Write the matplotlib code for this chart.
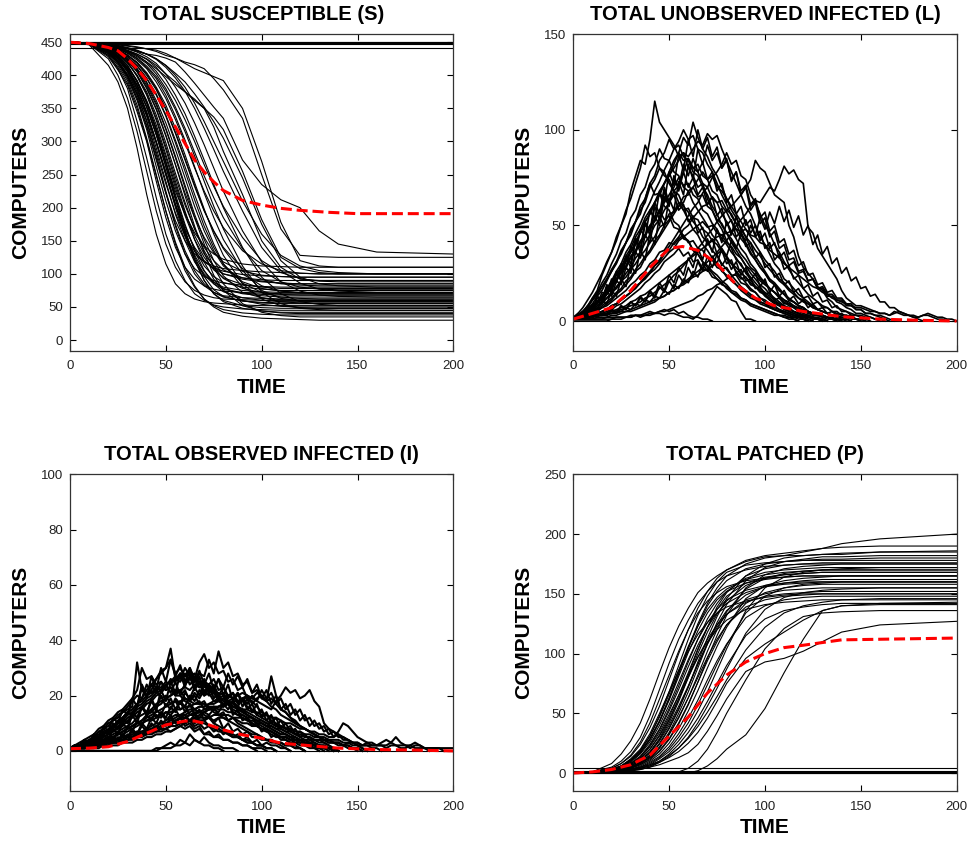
import matplotlib
matplotlib.use("Agg")
import numpy as np
import matplotlib.pyplot as plt

plt.rcParams['font.family'] = ['Liberation Sans', 'DejaVu Sans']

# ---- susceptible runs, values at T_S ----
T_S = [0, 10, 20, 25, 30, 35, 40, 45, 50, 55, 60, 65, 70, 75, 80, 90, 100, 110, 120, 130, 140, 160, 200]
S_RUNS = [
    [450, 446, 415, 390, 350, 290, 220, 160, 115, 85, 70, 62, 58, 56, 55, 53, 52, 52, 52, 52, 52, 52, 52],
    [450, 447, 425, 400, 365, 315, 255, 195, 145, 110, 88, 75, 68, 64, 62, 61, 60, 60, 60, 60, 60, 60, 60],
    [450, 448, 430, 410, 380, 330, 275, 215, 160, 120, 90, 70, 60, 53, 50, 47, 46, 45, 45, 45, 45, 45, 45],
    [450, 447, 428, 408, 385, 345, 300, 240, 185, 140, 110, 92, 82, 77, 74, 72, 71, 70, 70, 70, 70, 70, 70],
    [450, 448, 432, 415, 392, 355, 305, 250, 195, 145, 105, 80, 62, 52, 46, 41, 39, 38, 38, 38, 38, 38, 38],
    [450, 447, 435, 418, 395, 362, 318, 262, 210, 165, 130, 108, 96, 90, 86, 83, 81, 80, 80, 80, 80, 80, 80],
    [450, 449, 436, 422, 400, 370, 330, 280, 225, 175, 135, 105, 85, 72, 65, 59, 56, 55, 55, 55, 55, 55, 55],
    [450, 448, 438, 425, 405, 375, 338, 290, 240, 190, 150, 118, 98, 85, 77, 70, 67, 65, 65, 65, 65, 65, 65],
    [450, 447, 434, 420, 400, 372, 340, 298, 250, 205, 168, 140, 120, 108, 100, 94, 91, 90, 90, 90, 90, 90, 90],
    [450, 449, 440, 428, 410, 382, 345, 300, 255, 205, 160, 120, 90, 70, 58, 48, 44, 42, 42, 42, 42, 42, 42],
    [450, 448, 437, 425, 408, 385, 352, 310, 262, 215, 172, 138, 112, 96, 87, 80, 77, 75, 75, 75, 75, 75, 75],
    [450, 449, 441, 430, 415, 390, 358, 318, 270, 220, 175, 135, 105, 85, 73, 64, 60, 58, 58, 58, 58, 58, 58],
    [450, 448, 438, 428, 412, 392, 362, 325, 280, 235, 192, 158, 130, 112, 100, 92, 88, 86, 85, 85, 85, 85, 85],
    [450, 449, 442, 433, 420, 398, 370, 332, 288, 240, 195, 152, 118, 92, 75, 60, 54, 51, 50, 50, 50, 50, 50],
    [450, 448, 440, 432, 418, 400, 375, 340, 298, 252, 208, 168, 135, 110, 93, 78, 72, 69, 68, 68, 68, 68, 68],
    [450, 449, 443, 435, 422, 405, 380, 348, 308, 265, 222, 185, 155, 132, 118, 104, 98, 96, 95, 95, 95, 95, 95],
    [450, 448, 441, 434, 423, 408, 385, 355, 318, 275, 230, 185, 145, 110, 85, 55, 42, 37, 35, 35, 35, 35, 35],
    [450, 449, 444, 437, 426, 410, 390, 362, 328, 288, 245, 202, 165, 135, 112, 88, 78, 74, 72, 72, 72, 72, 72],
    [450, 448, 442, 436, 428, 414, 395, 370, 338, 298, 255, 212, 172, 140, 115, 86, 72, 65, 63, 62, 62, 62, 62],
    [450, 449, 445, 439, 430, 418, 400, 378, 348, 312, 272, 232, 195, 165, 140, 108, 92, 85, 83, 82, 82, 82, 82],
    [450, 448, 443, 438, 430, 420, 404, 382, 355, 320, 280, 238, 198, 160, 128, 85, 62, 52, 49, 48, 48, 48, 48],
    [450, 449, 445, 440, 433, 423, 410, 390, 365, 333, 298, 260, 225, 195, 170, 135, 115, 105, 101, 100, 100, 100, 100],
    [450, 448, 444, 440, 434, 425, 412, 395, 370, 338, 302, 262, 222, 185, 152, 105, 75, 63, 59, 58, 58, 58, 58],
    [450, 449, 446, 442, 436, 428, 418, 402, 380, 352, 320, 284, 248, 215, 185, 138, 105, 88, 80, 77, 76, 76, 76],
    [450, 448, 445, 442, 437, 430, 420, 406, 386, 362, 333, 300, 265, 232, 202, 155, 120, 102, 93, 89, 88, 88, 88],
    [450, 449, 446, 443, 438, 432, 424, 412, 394, 370, 342, 308, 272, 235, 200, 140, 95, 70, 58, 54, 52, 52, 52],
    [450, 448, 446, 444, 440, 435, 428, 418, 402, 382, 358, 328, 295, 260, 225, 165, 118, 88, 74, 68, 66, 65, 65],
    [450, 447, 433, 418, 398, 365, 322, 272, 222, 180, 150, 130, 118, 112, 108, 105, 103, 102, 101, 100, 100, 100, 100],
    [450, 448, 438, 426, 410, 385, 352, 312, 268, 225, 190, 162, 142, 130, 122, 115, 112, 111, 110, 110, 110, 110, 110],
    [450, 449, 442, 434, 424, 406, 382, 350, 310, 265, 218, 172, 132, 98, 75, 52, 44, 41, 40, 40, 40, 40, 40],
    [450, 448, 437, 424, 406, 378, 342, 298, 250, 204, 162, 128, 104, 88, 78, 71, 69, 68, 68, 68, 68, 68, 68],
    [450, 449, 440, 430, 415, 392, 360, 320, 276, 230, 188, 152, 125, 106, 94, 84, 80, 78, 78, 78, 78, 78, 78],
    [450, 448, 443, 437, 428, 415, 396, 372, 340, 302, 262, 220, 180, 145, 115, 80, 64, 58, 56, 55, 55, 55, 55],
    [450, 447, 430, 412, 388, 350, 302, 248, 195, 148, 110, 82, 62, 50, 42, 36, 33, 32, 31, 30, 30, 30, 30],
    [450, 449, 445, 441, 435, 426, 414, 398, 376, 348, 315, 278, 240, 202, 168, 112, 72, 55, 48, 46, 45, 45, 45],
    [450, 449, 447, 445, 442, 438, 432, 424, 412, 396, 376, 350, 320, 288, 255, 195, 140, 105, 86, 77, 74, 72, 72],
    [450, 448, 446, 444, 441, 437, 432, 425, 415, 400, 382, 358, 330, 300, 270, 210, 160, 128, 112, 105, 102, 100, 100],
    [450, 448, 436, 420, 398, 366, 325, 275, 222, 172, 130, 100, 82, 72, 67, 64, 63, 62, 62, 62, 62, 62, 62],
    [450, 449, 440, 427, 408, 380, 344, 300, 250, 200, 156, 122, 100, 87, 80, 75, 73, 72, 72, 72, 72, 72, 72],
    [450, 448, 440, 430, 414, 390, 358, 316, 268, 216, 165, 122, 90, 70, 60, 52, 49, 48, 48, 48, 48, 48, 48],
    [450, 449, 442, 434, 420, 400, 372, 335, 292, 246, 204, 168, 140, 120, 106, 94, 89, 86, 85, 85, 85, 85, 85],
    [450, 448, 442, 435, 425, 410, 388, 358, 320, 278, 234, 190, 152, 120, 97, 72, 64, 61, 60, 60, 60, 60, 60],
    [450, 447, 436, 422, 402, 372, 332, 284, 236, 192, 158, 134, 118, 109, 104, 99, 97, 96, 95, 95, 95, 95, 95],
    [450, 449, 444, 439, 431, 419, 402, 380, 350, 314, 274, 234, 196, 164, 138, 100, 82, 74, 71, 70, 70, 70, 70],
    [450, 448, 439, 428, 411, 386, 352, 310, 262, 212, 166, 126, 96, 76, 66, 59, 57, 56, 56, 56, 56, 56, 56],
    [450, 449, 447, 446, 444, 442, 440, 438, 433, 426, 418, 410, 404, 398, 392, 350, 270, 178, 120, 112, 110, 110, 110],
    [450, 448, 445, 443, 440, 436, 432, 430, 426, 420, 405, 388, 370, 352, 335, 272, 235, 212, 200, 165, 145, 133, 130],
    [450, 449, 447, 446, 445, 443, 440, 436, 430, 426, 420, 416, 410, 395, 378, 335, 250, 168, 128, 126, 125, 125, 125],
    [450, 448, 444, 441, 437, 432, 425, 415, 402, 390, 375, 362, 350, 337, 318, 255, 182, 125, 108, 102, 100, 100, 100],
    [450, 448, 443, 440, 436, 430, 420, 410, 398, 386, 375, 364, 350, 322, 285, 220, 150, 110, 92, 90, 90, 90, 90],
    [450, 449, 446, 444, 441, 437, 432, 425, 415, 403, 390, 372, 352, 330, 305, 245, 175, 120, 95, 85, 82, 80, 80],
]
S_FLAT = [450, 450, 449, 447, 441]
S_MEAN_T = [0, 10, 20, 25, 30, 35, 40, 45, 50, 55, 60, 65, 70, 75, 80, 90, 100, 110, 120, 135, 150, 175, 200]
S_MEAN = [450, 448, 442, 437, 425, 410, 392, 370, 347, 322, 297, 272, 254, 239, 226, 211, 204, 199, 196, 193, 191, 191, 191]

# ---- unobserved infected runs, values every 2.5 time units ----
T_L = np.arange(0, 200.1, 2.5)
L_RUNS = [
    [1, 2, 4, 7, 12, 16, 24, 30, 36, 42, 50, 56, 68, 76, 84, 82, 95, 115, 104, 100, 96, 92, 86, 88, 80, 76, 70, 72, 64, 58, 52, 48, 42, 38, 32, 30, 25, 22, 18, 16, 13, 11, 9, 8, 6, 5, 4, 3, 2, 2, 1, 1, 0],
    [1, 1, 2, 4, 5, 8, 10, 14, 17, 22, 26, 31, 36, 40, 46, 52, 56, 62, 66, 72, 78, 84, 88, 96, 92, 104, 96, 90, 86, 80, 76, 70, 64, 58, 54, 48, 44, 38, 34, 30, 26, 22, 20, 17, 14, 12, 10, 8, 7, 5, 4, 3, 3, 2, 1, 1, 0],
    [1, 2, 3, 5, 7, 10, 13, 17, 20, 25, 28, 34, 38, 44, 48, 54, 58, 62, 68, 72, 76, 80, 84, 88, 86, 90, 94, 92, 98, 95, 97, 90, 84, 78, 72, 66, 60, 56, 50, 44, 40, 35, 30, 27, 22, 20, 17, 14, 12, 10, 8, 6, 5, 4, 3, 2, 1, 1, 0],
    [1, 1, 1, 2, 2, 3, 3, 4, 4, 5, 6, 7, 8, 9, 10, 12, 13, 15, 17, 19, 21, 24, 26, 29, 32, 35, 38, 41, 45, 48, 52, 55, 58, 60, 63, 66, 70, 74, 84, 80, 78, 72, 66, 64, 62, 50, 44, 34, 28, 25, 22, 18, 16, 12, 10, 7, 6, 5, 4, 3, 3, 2, 2, 1, 1, 0],
    [1, 1, 2, 2, 2, 3, 3, 3, 4, 4, 5, 5, 6, 7, 8, 9, 10, 11, 12, 13, 15, 16, 18, 20, 22, 24, 26, 28, 31, 33, 36, 39, 42, 46, 50, 53, 56, 60, 63, 62, 66, 70, 68, 74, 81, 77, 79, 74, 72, 49, 46, 38, 34, 30, 26, 22, 16, 12, 10, 8, 8, 7, 6, 5, 4, 4, 3, 5, 4, 3, 3, 2, 2, 3, 3, 2, 1, 1, 0],
    [1, 2, 4, 6, 9, 13, 16, 21, 26, 30, 36, 41, 48, 52, 60, 64, 72, 76, 84, 88, 95, 90, 92, 86, 84, 78, 76, 70, 66, 60, 56, 50, 46, 41, 37, 33, 29, 25, 22, 19, 17, 14, 12, 10, 8, 7, 5, 4, 3, 3, 2, 1, 1, 0],
    [2, 3, 5, 8, 12, 15, 20, 24, 30, 35, 42, 46, 54, 58, 66, 70, 78, 82, 90, 85, 84, 78, 76, 70, 68, 62, 58, 54, 50, 45, 42, 37, 33, 30, 26, 23, 20, 17, 15, 12, 10, 9, 7, 6, 5, 4, 3, 2, 2, 1, 0],
    [1, 2, 3, 5, 7, 10, 12, 16, 19, 24, 27, 33, 36, 42, 46, 52, 56, 62, 66, 72, 76, 82, 88, 84, 85, 80, 78, 72, 70, 64, 62, 56, 52, 47, 43, 38, 35, 30, 27, 23, 20, 17, 15, 12, 10, 8, 7, 5, 4, 3, 2, 2, 1, 0],
    [1, 1, 2, 4, 5, 7, 9, 12, 14, 18, 21, 25, 28, 33, 36, 41, 45, 50, 53, 58, 62, 68, 71, 78, 85, 80, 82, 76, 74, 68, 66, 60, 57, 52, 48, 43, 40, 35, 32, 28, 25, 21, 19, 16, 14, 11, 10, 8, 7, 5, 4, 3, 3, 2, 1, 1, 0],
    [1, 3, 5, 7, 11, 14, 18, 22, 27, 31, 37, 41, 47, 52, 58, 62, 70, 74, 80, 76, 74, 68, 66, 60, 57, 52, 49, 44, 41, 37, 34, 30, 27, 24, 21, 18, 16, 14, 12, 10, 9, 7, 6, 5, 4, 3, 2, 2, 1, 0],
    [1, 1, 2, 3, 4, 6, 7, 9, 11, 14, 16, 19, 22, 26, 28, 33, 36, 40, 44, 48, 52, 56, 60, 62, 68, 70, 74, 78, 74, 76, 70, 68, 64, 60, 56, 52, 48, 44, 40, 36, 32, 29, 26, 22, 20, 17, 15, 12, 11, 9, 7, 6, 5, 4, 3, 2, 2, 1, 0],
    [1, 2, 3, 5, 7, 9, 12, 14, 18, 21, 25, 28, 33, 36, 41, 44, 50, 53, 58, 62, 66, 70, 75, 71, 72, 66, 64, 58, 56, 51, 48, 43, 40, 36, 33, 29, 26, 23, 20, 17, 15, 13, 11, 9, 8, 6, 5, 4, 3, 2, 2, 1, 0],
    [2, 3, 5, 8, 11, 14, 18, 22, 26, 31, 35, 41, 45, 52, 56, 64, 72, 66, 67, 60, 58, 52, 50, 44, 42, 37, 35, 31, 28, 25, 22, 20, 17, 15, 13, 11, 10, 8, 7, 6, 5, 4, 3, 3, 2, 1, 1, 0],
    [1, 1, 2, 3, 5, 6, 8, 10, 12, 15, 17, 21, 23, 27, 30, 34, 37, 42, 45, 50, 53, 58, 60, 65, 66, 70, 65, 66, 60, 58, 53, 51, 46, 43, 39, 35, 32, 28, 26, 22, 20, 17, 15, 13, 11, 9, 8, 6, 5, 4, 3, 3, 2, 1, 1, 0],
    [1, 1, 1, 2, 3, 4, 5, 6, 8, 9, 11, 13, 15, 18, 20, 23, 25, 29, 31, 35, 37, 41, 44, 48, 50, 54, 57, 60, 61, 65, 62, 63, 58, 56, 51, 49, 44, 41, 37, 34, 30, 27, 24, 21, 19, 16, 14, 12, 10, 9, 7, 6, 5, 4, 3, 3, 2, 2, 1, 1, 0],
    [1, 2, 3, 4, 6, 8, 10, 12, 15, 17, 21, 23, 27, 30, 34, 37, 41, 44, 49, 51, 56, 57, 62, 58, 59, 54, 53, 48, 46, 42, 40, 36, 34, 30, 28, 25, 23, 20, 18, 16, 14, 12, 10, 9, 7, 6, 5, 4, 3, 3, 2, 1, 1, 0],
    [1, 2, 4, 5, 8, 10, 13, 15, 19, 22, 26, 29, 34, 37, 42, 45, 50, 52, 58, 53, 55, 49, 48, 43, 42, 37, 35, 31, 29, 26, 24, 21, 19, 16, 15, 12, 11, 9, 8, 7, 6, 5, 4, 3, 2, 2, 1, 0],
    [1, 1, 1, 2, 3, 4, 5, 6, 8, 9, 11, 13, 15, 17, 20, 22, 25, 27, 30, 33, 36, 38, 42, 44, 46, 48, 50, 52, 49, 50, 46, 45, 41, 39, 35, 33, 29, 27, 24, 21, 19, 17, 15, 13, 11, 10, 8, 7, 6, 5, 4, 3, 3, 2, 2, 1, 1, 0],
    [1, 1, 2, 3, 4, 5, 7, 8, 10, 12, 14, 16, 19, 21, 24, 26, 30, 32, 36, 37, 41, 40, 43, 45, 41, 42, 38, 37, 33, 32, 28, 27, 23, 22, 19, 17, 15, 13, 12, 10, 9, 8, 6, 5, 5, 4, 3, 2, 2, 1, 0],
    [1, 1, 1, 2, 2, 3, 4, 5, 6, 8, 9, 11, 13, 15, 17, 20, 22, 25, 27, 31, 33, 35, 38, 34, 36, 31, 32, 27, 27, 23, 22, 19, 18, 15, 14, 12, 11, 9, 8, 7, 6, 5, 4, 3, 3, 2, 2, 1, 1, 0],
    [1, 1, 1, 1, 1, 2, 2, 2, 3, 3, 4, 5, 5, 6, 7, 8, 9, 10, 12, 13, 15, 16, 18, 19, 21, 23, 24, 26, 27, 29, 30, 27, 28, 24, 24, 20, 19, 16, 15, 12, 11, 9, 8, 6, 5, 4, 3, 3, 2, 2, 1, 1, 0],
    [1, 1, 1, 1, 1, 1, 1, 2, 2, 2, 2, 2, 3, 3, 2, 3, 3, 4, 4, 3, 4, 4, 3, 2, 2, 1, 3, 6, 10, 14, 18, 16, 14, 11, 10, 5, 1, 1, 0],
    [0, 0, 0, 0, 0, 0, 0, 0, 1, 1, 1, 2, 2, 3, 3, 4, 5, 4, 5, 6, 5, 6, 4, 5, 3, 2, 2, 1, 1, 0],
    [1, 1, 1, 1, 1, 1, 1, 1, 1, 2, 2, 2, 2, 3, 3, 3, 4, 4, 5, 5, 6, 7, 8, 9, 10, 11, 13, 14, 16, 17, 19, 20, 22, 23, 25, 22, 23, 19, 18, 15, 14, 11, 10, 8, 7, 5, 4, 3, 3, 2, 2, 1, 1, 0],
    [1, 2, 3, 5, 7, 10, 13, 17, 21, 26, 30, 36, 40, 46, 51, 57, 62, 68, 73, 79, 84, 90, 94, 100, 95, 97, 90, 88, 82, 78, 72, 66, 61, 55, 51, 45, 41, 36, 32, 28, 25, 21, 19, 16, 14, 11, 10, 8, 7, 5, 4, 3, 3, 2, 1, 1, 0],
    [2, 4, 7, 11, 15, 20, 25, 31, 36, 44, 50, 58, 64, 72, 80, 92, 86, 88, 80, 78, 72, 68, 62, 58, 53, 48, 45, 40, 37, 33, 30, 26, 24, 21, 19, 16, 14, 12, 11, 9, 8, 7, 6, 5, 4, 3, 2, 2, 1, 0],
    [1, 1, 1, 2, 3, 4, 5, 6, 8, 9, 11, 13, 15, 18, 20, 23, 26, 29, 32, 36, 39, 43, 47, 51, 55, 59, 62, 67, 70, 75, 78, 82, 88, 82, 84, 76, 74, 66, 62, 56, 50, 46, 40, 36, 31, 27, 23, 20, 17, 14, 12, 10, 8, 7, 5, 4, 3, 3, 2, 1, 1, 0],
    [1, 1, 1, 2, 2, 3, 3, 4, 5, 6, 7, 8, 10, 11, 13, 14, 16, 18, 20, 22, 24, 26, 28, 30, 32, 34, 36, 38, 40, 42, 44, 45, 46, 47, 48, 47, 48, 45, 44, 41, 40, 37, 35, 33, 30, 28, 26, 24, 22, 20, 18, 17, 15, 14, 12, 11, 10, 9, 8, 7, 7, 6, 5, 5, 4, 4, 3, 4, 5, 4, 3, 3, 2, 3, 4, 3, 2, 2, 1, 1, 0],
    [1, 3, 2, 6, 5, 10, 9, 15, 13, 21, 19, 28, 25, 36, 33, 45, 41, 55, 50, 65, 60, 75, 70, 82, 76, 85, 78, 83, 74, 78, 68, 72, 62, 66, 56, 60, 50, 53, 44, 47, 38, 41, 32, 35, 27, 29, 22, 24, 17, 19, 13, 15, 10, 11, 7, 8, 5, 5, 3, 3, 2, 1, 0],
    [1, 4, 3, 8, 6, 13, 11, 19, 16, 26, 22, 34, 30, 43, 38, 52, 47, 62, 56, 70, 62, 66, 58, 61, 52, 55, 46, 49, 40, 43, 35, 37, 30, 32, 25, 27, 21, 22, 17, 18, 14, 15, 11, 12, 9, 9, 7, 7, 5, 5, 3, 3, 2, 2, 1, 0],
    [1, 1, 2, 1, 3, 2, 4, 3, 6, 4, 8, 6, 10, 8, 13, 10, 16, 13, 20, 16, 24, 20, 28, 24, 33, 28, 38, 32, 43, 36, 48, 41, 52, 45, 55, 48, 53, 46, 50, 42, 46, 38, 41, 33, 36, 29, 31, 25, 26, 21, 22, 17, 18, 14, 14, 11, 11, 8, 8, 6, 6, 4, 4, 3, 3, 2, 1, 0],
    [1, 2, 4, 3, 7, 6, 11, 9, 16, 13, 22, 18, 29, 25, 37, 32, 46, 40, 55, 49, 64, 58, 73, 66, 82, 74, 90, 82, 92, 84, 88, 80, 84, 74, 78, 68, 71, 61, 64, 54, 57, 47, 50, 41, 43, 35, 37, 29, 31, 24, 25, 19, 20, 15, 16, 12, 12, 9, 9, 6, 6, 4, 4, 3, 2, 1, 0],
    [1, 1, 2, 2, 3, 3, 4, 4, 6, 5, 8, 6, 10, 8, 12, 10, 15, 12, 18, 15, 21, 17, 24, 20, 28, 23, 31, 26, 34, 28, 35, 29, 33, 27, 31, 24, 28, 21, 25, 18, 22, 15, 19, 13, 16, 11, 13, 9, 11, 7, 9, 6, 7, 4, 5, 3, 4, 2, 3, 1, 1, 0],
    [1, 3, 3, 7, 6, 12, 10, 18, 15, 25, 21, 33, 28, 42, 36, 51, 45, 60, 53, 68, 61, 76, 68, 78, 70, 75, 66, 70, 61, 65, 55, 59, 50, 53, 44, 47, 39, 41, 33, 36, 28, 30, 23, 25, 19, 21, 15, 17, 12, 13, 9, 10, 7, 7, 5, 5, 3, 3, 2, 1, 0],
    [1, 1, 1, 2, 2, 3, 3, 4, 4, 5, 5, 7, 6, 9, 8, 11, 10, 13, 12, 16, 14, 19, 17, 22, 20, 26, 23, 30, 26, 34, 30, 38, 34, 42, 38, 46, 42, 50, 45, 54, 48, 57, 51, 60, 52, 58, 49, 55, 45, 50, 40, 45, 35, 39, 30, 33, 25, 28, 21, 23, 17, 18, 13, 14, 10, 10, 7, 7, 5, 4, 3, 2, 1, 0],
    [1, 3, 5, 5, 9, 9, 15, 14, 22, 20, 30, 27, 39, 35, 48, 44, 58, 53, 68, 62, 78, 71, 87, 79, 95, 86, 100, 90, 96, 86, 91, 80, 85, 73, 78, 66, 70, 58, 62, 51, 54, 44, 47, 38, 40, 32, 33, 26, 27, 21, 22, 17, 17, 13, 13, 10, 9, 7, 6, 4, 4, 3, 2, 1, 0],
]
L_FLAT = [0]
L_MEAN_T = [0, 10, 20, 30, 40, 50, 57, 65, 75, 85, 95, 105, 120, 140, 160, 180, 200]
L_MEAN = [1, 4, 7, 16, 28, 38, 39, 37, 30, 19, 12, 8, 5, 2.3, 1, 0.4, 0]

# ---- observed infected runs, values every 2.5 time units ----
T_I = np.arange(0, 200.1, 2.5)
I_RUNS = [
    [1, 1, 2, 2, 3, 4, 5, 6, 7, 9, 10, 12, 14, 13, 16, 24, 20, 22, 26, 28, 30, 37, 26, 28, 24, 27, 22, 25, 20, 21, 18, 19, 16, 17, 14, 13, 12, 11, 10, 9, 8, 8, 7, 6, 5, 5, 4, 4, 3, 3, 2, 2, 2, 1, 1, 1, 0],
    [1, 1, 1, 2, 2, 3, 3, 4, 5, 5, 6, 7, 8, 9, 10, 11, 13, 14, 16, 17, 19, 20, 22, 21, 24, 26, 25, 28, 27, 33, 28, 36, 30, 32, 27, 28, 24, 25, 21, 22, 19, 18, 16, 15, 13, 12, 11, 10, 9, 8, 7, 6, 5, 4, 4, 3, 3, 2, 2, 1, 1, 0],
    [1, 1, 2, 3, 4, 5, 6, 8, 9, 11, 12, 14, 15, 16, 32, 22, 20, 24, 21, 25, 22, 23, 20, 22, 19, 18, 17, 18, 15, 16, 14, 13, 12, 11, 10, 9, 8, 7, 6, 6, 5, 4, 4, 3, 3, 2, 2, 1, 1, 0],
    [1, 1, 1, 1, 2, 2, 2, 3, 3, 3, 4, 4, 5, 5, 6, 7, 7, 8, 9, 10, 10, 11, 12, 13, 13, 14, 15, 16, 16, 17, 18, 18, 19, 20, 19, 21, 18, 20, 17, 19, 20, 18, 27, 20, 15, 14, 12, 10, 9, 8, 7, 6, 5, 4, 3, 3, 2, 2, 1, 1, 0],
    [0, 0, 1, 1, 1, 1, 1, 2, 2, 2, 2, 3, 3, 3, 4, 4, 5, 5, 6, 6, 7, 7, 8, 9, 10, 11, 12, 13, 14, 15, 15, 16, 17, 18, 19, 20, 21, 20, 19, 18, 17, 16, 15, 18, 20, 23, 21, 22, 19, 20, 22, 18, 16, 10, 8, 7, 6, 5, 4, 3, 3, 2, 2, 1, 1, 0],
    [1, 1, 1, 1, 2, 2, 2, 3, 3, 3, 4, 4, 5, 5, 6, 6, 7, 8, 8, 9, 10, 10, 11, 12, 12, 13, 13, 14, 14, 15, 15, 16, 16, 17, 16, 16, 15, 15, 14, 14, 13, 13, 12, 12, 11, 10, 10, 9, 8, 8, 7, 7, 6, 6, 5, 5, 7, 10, 9, 7, 5, 4, 3, 3, 2, 2, 2, 3, 5, 3, 2, 2, 1, 1, 1, 0],
    [1, 1, 2, 2, 3, 4, 5, 6, 7, 8, 10, 11, 13, 14, 16, 17, 19, 20, 22, 23, 25, 24, 26, 25, 28, 24, 26, 23, 24, 21, 22, 19, 20, 17, 18, 15, 15, 13, 12, 11, 10, 9, 8, 7, 6, 6, 5, 4, 4, 3, 3, 2, 2, 1, 1, 0],
    [1, 1, 2, 3, 3, 4, 5, 6, 8, 9, 11, 12, 14, 15, 17, 18, 20, 21, 23, 22, 24, 21, 25, 20, 22, 18, 20, 17, 18, 15, 16, 13, 14, 11, 12, 10, 9, 8, 7, 6, 5, 4, 4, 3, 3, 2, 2, 1, 1, 0],
    [1, 1, 1, 2, 3, 3, 4, 5, 6, 7, 9, 10, 12, 13, 15, 16, 18, 19, 21, 22, 24, 25, 27, 26, 30, 27, 28, 24, 26, 22, 23, 20, 21, 18, 17, 16, 14, 13, 12, 10, 9, 8, 7, 6, 5, 5, 4, 3, 3, 2, 2, 1, 1, 0],
    [1, 1, 1, 2, 2, 3, 3, 4, 5, 5, 6, 7, 8, 9, 10, 11, 12, 13, 14, 15, 16, 17, 18, 17, 19, 18, 21, 19, 22, 20, 21, 18, 19, 17, 16, 15, 14, 13, 12, 11, 10, 9, 8, 7, 6, 6, 5, 4, 4, 3, 3, 2, 2, 1, 1, 0],
    [1, 2, 2, 3, 4, 5, 7, 8, 10, 11, 13, 14, 16, 18, 20, 19, 24, 21, 22, 19, 20, 17, 18, 15, 16, 13, 13, 11, 11, 9, 9, 8, 7, 6, 5, 5, 4, 3, 3, 2, 2, 1, 1, 0],
    [1, 1, 1, 1, 2, 2, 2, 3, 3, 4, 4, 5, 5, 6, 7, 7, 8, 9, 10, 10, 11, 12, 13, 13, 14, 15, 15, 16, 16, 17, 17, 18, 17, 18, 16, 16, 15, 14, 13, 12, 11, 10, 9, 8, 7, 6, 5, 5, 4, 3, 3, 2, 2, 1, 1, 0],
    [1, 1, 1, 2, 2, 3, 4, 4, 5, 6, 7, 8, 9, 10, 12, 13, 14, 15, 17, 18, 19, 20, 21, 22, 23, 22, 24, 23, 25, 24, 26, 22, 23, 20, 21, 18, 18, 16, 15, 13, 12, 11, 10, 9, 8, 7, 6, 5, 4, 4, 3, 3, 2, 2, 1, 1, 0],
    [1, 1, 1, 2, 2, 3, 3, 4, 5, 5, 6, 7, 8, 9, 10, 10, 11, 12, 13, 12, 14, 13, 15, 12, 13, 11, 12, 10, 10, 9, 8, 7, 7, 6, 5, 5, 4, 3, 3, 2, 2, 1, 1, 0],
    [1, 1, 1, 1, 1, 2, 2, 2, 3, 3, 3, 4, 4, 5, 5, 6, 6, 7, 7, 8, 8, 9, 9, 10, 10, 11, 10, 11, 11, 12, 11, 12, 12, 11, 12, 11, 10, 10, 9, 9, 8, 7, 7, 6, 5, 5, 4, 4, 3, 3, 2, 2, 1, 1, 0],
    [0, 0, 1, 1, 1, 1, 2, 2, 2, 3, 3, 3, 4, 4, 5, 5, 6, 6, 7, 7, 8, 7, 8, 9, 8, 9, 7, 8, 6, 6, 5, 5, 4, 4, 3, 3, 2, 2, 1, 1, 1, 0],
    [0, 0, 0, 0, 0, 0, 0, 0, 0, 0, 0, 0, 0, 0, 0, 0, 0, 0, 1, 1, 2, 3, 2, 4, 3, 6, 4, 3, 2, 2, 1, 1, 0],
    [0, 0, 0, 0, 0, 0, 0, 0, 0, 0, 0, 0, 0, 0, 0, 0, 0, 0, 0, 1, 1, 1, 2, 2, 3, 2, 4, 3, 5, 3, 2, 2, 1, 1, 1, 0],
    [1, 1, 1, 1, 2, 2, 2, 3, 3, 3, 4, 4, 5, 5, 6, 6, 7, 8, 8, 9, 10, 10, 11, 12, 12, 13, 14, 14, 15, 15, 16, 16, 17, 17, 18, 18, 19, 20, 19, 21, 20, 18, 19, 17, 15, 14, 12, 11, 9, 8, 7, 6, 5, 4, 4, 3, 3, 2, 2, 1, 1, 0],
    [1, 1, 1, 2, 2, 3, 3, 4, 4, 5, 6, 6, 7, 8, 9, 10, 11, 11, 12, 13, 14, 14, 15, 15, 16, 16, 17, 17, 17, 16, 16, 15, 15, 14, 14, 13, 13, 12, 12, 11, 11, 10, 10, 9, 9, 8, 8, 7, 7, 6, 6, 5, 5, 5, 4, 4, 4, 3, 3, 3, 3, 2, 2, 2, 2, 3, 4, 3, 2, 2, 2, 1, 2, 2, 1, 1, 1, 1, 1, 1, 1],
    [1, 1, 2, 2, 3, 4, 5, 6, 7, 9, 10, 12, 14, 15, 17, 19, 22, 24, 26, 29, 30, 33, 28, 30, 27, 28, 25, 26, 23, 23, 21, 20, 18, 17, 15, 14, 13, 12, 10, 9, 8, 7, 6, 5, 5, 4, 3, 3, 2, 2, 1, 1, 0],
    [1, 1, 1, 2, 3, 3, 4, 5, 6, 7, 8, 9, 11, 12, 14, 15, 17, 18, 20, 21, 23, 26, 25, 28, 27, 30, 26, 32, 35, 30, 32, 28, 29, 25, 26, 22, 23, 19, 18, 16, 14, 13, 11, 10, 9, 8, 7, 6, 5, 4, 4, 3, 2, 2, 1, 1, 0],
    [1, 2, 3, 4, 5, 6, 8, 9, 11, 12, 14, 15, 17, 19, 22, 30, 26, 27, 24, 25, 22, 23, 20, 20, 18, 17, 15, 14, 13, 12, 10, 9, 8, 7, 6, 5, 4, 4, 3, 2, 2, 1, 1, 0],
    [0, 1, 1, 1, 1, 2, 2, 2, 3, 3, 3, 4, 4, 5, 5, 6, 6, 7, 7, 8, 8, 9, 9, 10, 10, 11, 11, 12, 12, 12, 13, 13, 13, 13, 12, 12, 12, 11, 11, 10, 10, 9, 9, 8, 8, 7, 7, 6, 6, 5, 5, 4, 4, 4, 3, 3, 3, 2, 3, 2, 2, 2, 3, 2, 2, 2, 1, 2, 2, 1, 1, 2, 3, 2, 1, 1, 1, 1, 0],
    [1, 2, 1, 3, 2, 4, 3, 6, 4, 8, 6, 10, 8, 13, 10, 16, 13, 19, 15, 22, 18, 25, 21, 28, 23, 30, 25, 29, 24, 28, 22, 26, 20, 24, 18, 21, 16, 19, 14, 17, 12, 14, 10, 12, 8, 10, 7, 8, 5, 6, 4, 4, 3, 3, 2, 1, 0],
    [1, 1, 2, 1, 3, 2, 4, 3, 5, 4, 7, 5, 9, 7, 11, 9, 13, 11, 15, 13, 17, 15, 19, 17, 21, 19, 23, 20, 25, 21, 24, 20, 23, 19, 21, 17, 19, 15, 17, 13, 15, 11, 13, 9, 11, 8, 9, 6, 7, 5, 5, 4, 4, 3, 2, 1, 0],
    [1, 2, 2, 3, 3, 5, 4, 7, 6, 9, 8, 11, 10, 14, 12, 16, 14, 18, 15, 20, 16, 19, 15, 18, 14, 17, 13, 15, 11, 13, 10, 12, 8, 10, 7, 8, 6, 7, 5, 5, 4, 4, 3, 3, 2, 1, 0],
    [1, 1, 1, 2, 1, 3, 2, 4, 3, 5, 4, 6, 5, 7, 6, 9, 7, 10, 8, 11, 9, 12, 10, 12, 10, 11, 9, 10, 8, 9, 7, 8, 6, 7, 5, 6, 4, 5, 3, 4, 2, 3, 2, 2, 1, 1, 0],
    [1, 1, 1, 2, 2, 3, 2, 4, 3, 5, 4, 6, 5, 8, 6, 10, 8, 12, 10, 14, 12, 16, 14, 18, 16, 20, 18, 22, 20, 24, 22, 26, 23, 28, 24, 27, 23, 26, 21, 24, 19, 22, 17, 20, 15, 17, 13, 15, 11, 13, 9, 11, 8, 9, 6, 7, 5, 5, 4, 3, 2, 1, 0],
    [1, 1, 1, 1, 2, 2, 3, 2, 4, 3, 5, 4, 6, 5, 7, 6, 8, 7, 9, 8, 10, 9, 11, 10, 12, 11, 13, 12, 14, 13, 15, 14, 17, 15, 18, 16, 19, 17, 20, 18, 22, 19, 21, 17, 19, 15, 17, 13, 15, 11, 12, 9, 10, 7, 8, 5, 6, 4, 4, 3, 2, 1, 0],
    [1, 2, 2, 4, 3, 6, 5, 9, 7, 12, 10, 15, 13, 19, 16, 23, 19, 27, 22, 30, 25, 33, 27, 31, 25, 29, 23, 27, 21, 24, 19, 21, 16, 18, 13, 15, 11, 12, 9, 10, 7, 8, 5, 6, 4, 4, 3, 2, 1, 0],
    [1, 2, 2, 4, 3, 6, 5, 8, 6, 10, 8, 12, 10, 14, 12, 16, 13, 15, 12, 14, 11, 13, 10, 12, 9, 10, 8, 9, 6, 7, 5, 6, 4, 4, 3, 3, 2, 2, 1, 0],
]
I_FLAT = [0]
I_MEAN_T = [0, 10, 20, 30, 40, 50, 60, 65, 70, 80, 90, 100, 110, 120, 140, 160, 180, 200]
I_MEAN = [0.8, 1, 1.5, 3.4, 6.4, 9.4, 10.8, 10.8, 10, 7.6, 5.8, 4.6, 2.8, 2.2, 1, 0.5, 0.3, 0]

# ---- patched runs, values at T_P ----
T_P = [0, 10, 20, 25, 30, 35, 40, 45, 50, 55, 60, 65, 70, 75, 80, 90, 100, 110, 120, 130, 140, 160, 200]
P_RUNS = [
    [0, 1, 8, 16, 27, 42, 62, 84, 105, 123, 138, 151, 159, 165, 170, 177, 181, 182, 182, 183, 183, 185, 186],
    [0, 1, 5, 10, 18, 30, 48, 70, 92, 112, 128, 142, 152, 160, 165, 170, 173, 174, 175, 175, 175, 175, 175],
    [0, 0, 4, 8, 15, 26, 42, 62, 82, 102, 120, 134, 144, 151, 156, 161, 163, 164, 165, 165, 165, 165, 165],
    [0, 1, 4, 8, 14, 24, 38, 56, 78, 100, 120, 138, 152, 163, 170, 178, 182, 184, 186, 188, 189, 190, 190],
    [0, 0, 3, 6, 12, 20, 33, 50, 68, 86, 102, 116, 126, 134, 139, 144, 147, 149, 150, 150, 150, 150, 150],
    [0, 1, 3, 6, 11, 19, 31, 47, 66, 86, 106, 123, 137, 147, 154, 162, 166, 168, 169, 170, 170, 170, 170],
    [0, 0, 3, 5, 10, 17, 28, 43, 62, 83, 104, 123, 140, 152, 161, 171, 175, 177, 178, 179, 179, 180, 180],
    [0, 1, 2, 5, 9, 16, 26, 40, 57, 76, 95, 112, 126, 137, 145, 153, 157, 159, 160, 160, 160, 160, 160],
    [0, 0, 2, 4, 8, 14, 24, 37, 54, 73, 93, 112, 129, 142, 152, 163, 168, 170, 171, 172, 172, 172, 172],
    [0, 0, 2, 4, 8, 13, 22, 34, 49, 65, 82, 97, 110, 120, 128, 137, 141, 143, 144, 145, 145, 145, 145],
    [0, 1, 2, 4, 7, 12, 20, 32, 47, 65, 84, 104, 122, 137, 148, 159, 164, 166, 167, 168, 168, 168, 168],
    [0, 0, 2, 3, 6, 11, 18, 29, 44, 62, 82, 103, 122, 139, 151, 165, 171, 174, 175, 176, 176, 176, 176],
    [0, 0, 1, 3, 6, 10, 17, 27, 40, 56, 73, 91, 108, 122, 133, 145, 150, 153, 154, 155, 155, 155, 155],
    [0, 0, 2, 3, 5, 9, 15, 25, 38, 54, 72, 91, 109, 124, 136, 149, 156, 159, 161, 162, 162, 162, 162],
    [0, 1, 2, 3, 5, 9, 15, 24, 37, 53, 72, 93, 113, 131, 146, 165, 175, 180, 182, 183, 184, 185, 185],
    [0, 0, 1, 2, 4, 8, 13, 21, 33, 47, 63, 80, 97, 112, 124, 139, 145, 148, 149, 150, 150, 150, 150],
    [0, 0, 1, 3, 5, 8, 13, 21, 32, 46, 63, 82, 102, 120, 135, 154, 163, 167, 169, 170, 170, 170, 170],
    [0, 0, 1, 2, 4, 7, 12, 19, 29, 42, 58, 76, 94, 110, 124, 142, 151, 155, 157, 158, 158, 158, 158],
    [0, 0, 1, 2, 4, 7, 11, 18, 28, 41, 57, 76, 96, 115, 132, 155, 166, 171, 173, 174, 175, 175, 175],
    [0, 0, 1, 2, 3, 6, 10, 16, 25, 37, 52, 69, 88, 106, 122, 146, 157, 161, 163, 164, 165, 165, 165],
    [0, 0, 1, 2, 3, 5, 9, 14, 22, 33, 46, 61, 78, 94, 108, 130, 140, 145, 147, 148, 148, 148, 148],
    [0, 0, 0, 1, 3, 5, 8, 13, 20, 30, 42, 57, 74, 91, 107, 134, 148, 155, 158, 159, 160, 160, 160],
    [0, 0, 0, 1, 2, 4, 7, 12, 18, 27, 38, 52, 68, 86, 104, 136, 155, 164, 168, 170, 171, 172, 172],
    [0, 0, 0, 1, 2, 4, 6, 10, 16, 24, 34, 46, 60, 75, 90, 115, 129, 136, 139, 141, 142, 142, 142],
    [0, 0, 0, 1, 2, 3, 5, 9, 14, 21, 30, 42, 56, 71, 87, 117, 137, 147, 151, 153, 154, 155, 155],
    [0, 1, 3, 6, 11, 19, 31, 48, 68, 90, 112, 132, 148, 160, 168, 174, 176, 177, 178, 178, 178, 178, 178],
    [0, 0, 2, 4, 8, 14, 23, 36, 52, 70, 89, 107, 122, 134, 142, 151, 156, 158, 159, 160, 160, 160, 160],
    [0, 0, 2, 3, 6, 10, 17, 28, 42, 60, 80, 100, 118, 133, 144, 157, 163, 166, 167, 168, 168, 168, 168],
    [0, 0, 1, 3, 5, 8, 14, 22, 34, 50, 68, 88, 108, 126, 141, 161, 172, 177, 179, 181, 181, 182, 182],
    [0, 0, 2, 4, 7, 12, 20, 31, 45, 62, 80, 97, 112, 124, 133, 143, 148, 150, 151, 152, 152, 152, 152],
    [0, 1, 3, 5, 10, 17, 28, 43, 61, 81, 101, 119, 134, 145, 152, 159, 162, 164, 165, 165, 165, 165, 165],
    [0, 0, 0, 0, 0, 0, 0, 0, 0, 1, 4, 10, 20, 34, 50, 78, 104, 121, 131, 134, 135, 136, 136],
    [0, 0, 0, 0, 0, 0, 0, 0, 0, 0, 0, 2, 6, 12, 20, 32, 54, 84, 112, 136, 140, 141, 141],
    [0, 0, 0, 1, 2, 3, 5, 7, 10, 13, 17, 24, 35, 48, 62, 85, 93, 96, 102, 110, 118, 124, 127],
    [0, 0, 1, 1, 2, 4, 6, 9, 13, 18, 25, 34, 46, 60, 75, 96, 108, 118, 128, 136, 140, 142, 143],
    [0, 0, 1, 2, 3, 5, 7, 10, 15, 21, 29, 39, 51, 64, 78, 103, 122, 134, 140, 143, 145, 146, 146],
    [0, 1, 3, 6, 11, 18, 29, 44, 63, 84, 105, 125, 142, 155, 165, 175, 180, 182, 185, 188, 192, 196, 200],
]
P_FLAT = [0, 0, 1, 2, 4]
P_MEAN_T = [0, 10, 20, 30, 40, 50, 60, 70, 80, 90, 100, 110, 120, 140, 160, 200]
P_MEAN = [0, 1, 3, 7, 15, 31, 47, 67, 82, 93, 100, 105, 107, 111.5, 112, 113]


def draw_panel(ax, t, runs, flat, mean_t, mean, title, ylim, yticks, lw=0.8):
    for run in runs:
        ax.plot(t[:len(run)], run, color='k', lw=lw)
    for v in flat:
        ax.plot([t[0], t[-1]], [v, v], color='k', lw=0.8)
    red, = ax.plot(mean_t, mean, color='#ff0000', lw=2.2, ls='--')
    red.set_dashes([3.6, 1.6])
    ax.set_xlim(0, 200)
    ax.set_ylim(*ylim)
    ax.set_xticks([0, 50, 100, 150, 200])
    ax.set_yticks(yticks)
    ax.tick_params(direction='in', top=True, right=True, length=4,
                   labelsize=9.5, labelcolor='#222222', width=0.8, pad=5)
    ax.tick_params(axis='x', pad=7)
    for sp in ax.spines.values():
        sp.set_linewidth(0.9)
        sp.set_color('#333333')
    ax.set_title(title, fontsize=14.5, fontweight='bold', pad=10)
    ax.set_xlabel('TIME', fontsize=15, fontweight='bold', labelpad=4)
    ax.set_ylabel('COMPUTERS', fontsize=15, fontweight='bold', labelpad=8)


fig = plt.figure(figsize=(9.71, 8.46), dpi=100)
ax_s = fig.add_axes([0.0721, 0.5855, 0.3948, 0.374])
ax_l = fig.add_axes([0.5904, 0.5855, 0.3948, 0.374])
ax_i = fig.add_axes([0.0721, 0.065, 0.3948, 0.3743])
ax_p = fig.add_axes([0.5904, 0.065, 0.3948, 0.3743])

draw_panel(ax_s, T_S, S_RUNS, S_FLAT, S_MEAN_T, S_MEAN, 'TOTAL SUSCEPTIBLE (S)',
           (-16, 462), list(range(0, 451, 50)))
draw_panel(ax_l, T_L, L_RUNS, L_FLAT, L_MEAN_T, L_MEAN, 'TOTAL UNOBSERVED INFECTED (L)',
           (-15.5, 150), [0, 50, 100, 150], lw=1.2)
draw_panel(ax_i, T_I, I_RUNS, I_FLAT, I_MEAN_T, I_MEAN, 'TOTAL OBSERVED INFECTED (I)',
           (-14.5, 100), [0, 20, 40, 60, 80, 100], lw=1.5)
draw_panel(ax_p, T_P, P_RUNS, P_FLAT, P_MEAN_T, P_MEAN, 'TOTAL PATCHED (P)',
           (-15, 250), [0, 50, 100, 150, 200, 250])

fig.savefig('out.png', dpi=100, facecolor='white')
